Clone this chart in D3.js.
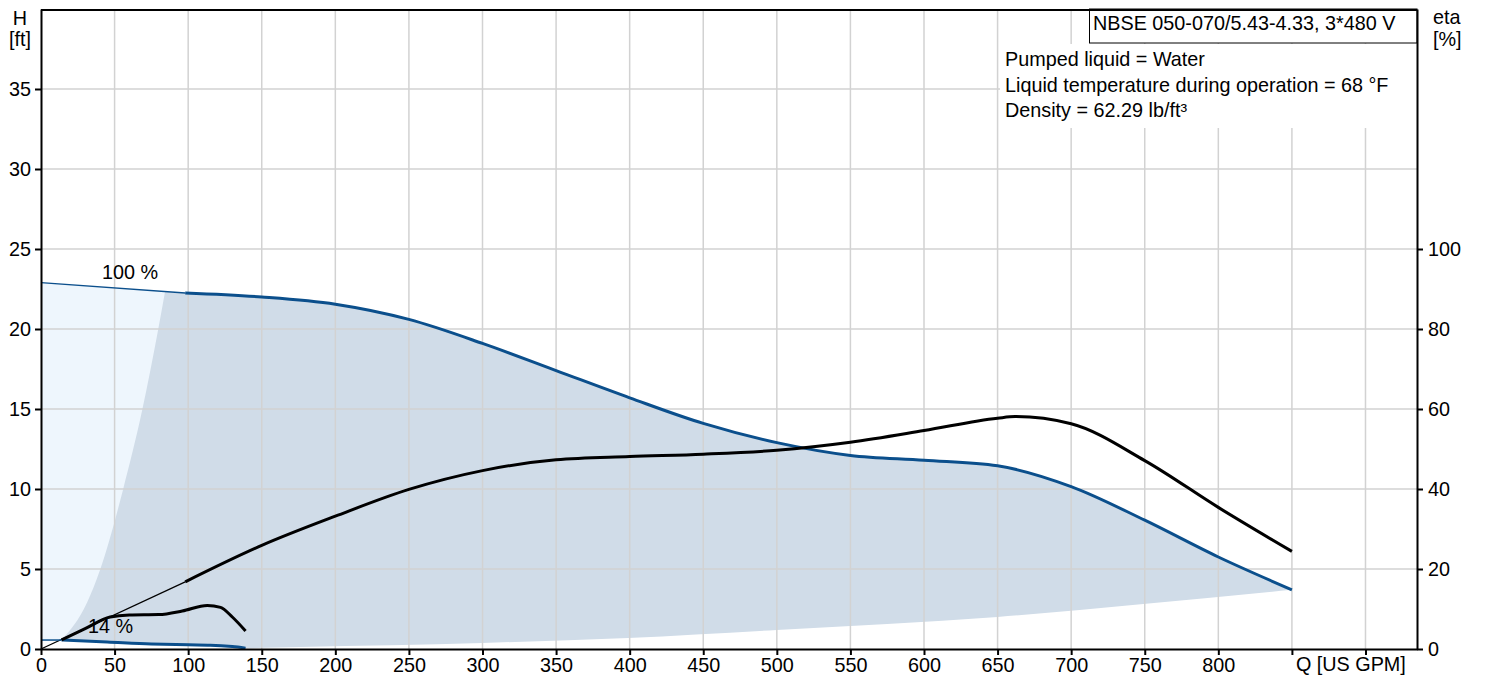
<!DOCTYPE html>
<html>
<head>
<meta charset="utf-8">
<script src="https://cdn.jsdelivr.net/npm/d3@7"></script>
<style>
  body { margin: 0; background: #fff; }
  svg { display: block; font-family: "Liberation Sans", Arial, sans-serif; }
</style>
</head>
<body>
<svg id="chart" width="1496" height="676"></svg>
<script>
// axis ticks
const qTicks = [0, 50, 100, 150, 200, 250, 300, 350, 400, 450, 500, 550, 600, 650, 700, 750, 800, 850, 900];
const hTicks = [0, 5, 10, 15, 20, 25, 30, 35];
const etaTicks = [0, 20, 40, 60, 80, 100];

// 100 % speed, head [ft] over flow [US GPM]
const q100 = [0, 98, 150, 200, 250, 300, 350, 400, 450, 500, 550, 600, 650, 700, 750, 800, 850];
const h100 = [22.9, 22.25, 22.0, 21.55, 20.6, 19.1, 17.4, 15.7, 14.1, 12.9, 12.1, 11.8, 11.45, 10.15, 8.05, 5.75, 3.7];

// 100 % speed, efficiency [%]
const qEta100 = [0, 98, 150, 200, 250, 300, 350, 400, 450, 500, 550, 600, 650, 662, 700, 750, 800, 850];
const eta100 = [0, 16.8, 25.9, 33.2, 39.9, 44.6, 47.3, 48.1, 48.7, 49.7, 51.7, 54.6, 57.7, 58.1, 56.3, 47.1, 35.4, 24.4];

// 14 % speed
const q14 = [0, 14, 45, 75, 100, 115, 130, 139];
const h14 = [0.56, 0.56, 0.44, 0.32, 0.26, 0.24, 0.15, 0.05];
const qEta14 = [14, 30, 47, 60, 80, 96, 113, 122, 130, 139];
const eta14 = [2.3, 5.1, 8.0, 8.5, 8.6, 9.5, 10.9, 10.4, 8.0, 4.5];

// limits of the operating range
const qMinFlow = [14, 31.3, 40.1, 55.7, 68.7, 79.5, 84.3];
const hMinFlow = [0.56, 2.9, 4.94, 9.94, 14.9, 19.9, 22.34];
const qMaxFlow = [139, 176, 300, 399, 500, 650, 749, 850];
const hMaxFlow = [0.05, 0.13, 0.38, 0.69, 1.19, 2.0, 2.81, 3.7];

const thickFrom = 98;      // flow where the 100 % curves turn solid
const thickFrom14 = 14;

const title = 'NBSE 050-070/5.43-4.33, 3*480 V';
const infoLines = ['Pumped liquid = Water', 'Liquid temperature during operation = 68 °F', 'Density = 62.29 lb/ft³'];

const BLUE = '#0b4f8c', DARK = '#d0dce8', LIGHT = '#eef6fd', GRID = '#d2d2d2';
const FS = '19.8px';

const svg = d3.select('#chart');
const x = d3.scaleLinear().domain([0, 935]).range([41, 1417]);
const yH = d3.scaleLinear().domain([0, 40]).range([649, 9]);
const yE = d3.scaleLinear().domain([0, 160]).range([649, 9]);

const zip = (a, b) => a.map((v, i) => [v, b[i]]);
const pH100 = zip(q100, h100), pE100 = zip(qEta100, eta100);
const pH14 = zip(q14, h14), pE14 = zip(qEta14, eta14);
const pMin = zip(qMinFlow, hMinFlow), pMax = zip(qMaxFlow, hMaxFlow);

const lineH = d3.line().x(d => x(d[0])).y(d => yH(d[1])).curve(d3.curveMonotoneX);
const lineE = d3.line().x(d => x(d[0])).y(d => yE(d[1])).curve(d3.curveMonotoneX);
const areaH = d3.area().x(d => x(d[0])).y0(yH(0)).y1(d => yH(d[1])).curve(d3.curveMonotoneX);

// fills: light under the full curve, dark operating range, white below the minimum speed
svg.append('path').attr('d', areaH(pH100)).attr('fill', LIGHT);
const topEdge = [pMin[pMin.length - 1]].concat(pH100.filter(d => d[0] >= thickFrom));
const dark = lineH(pMin) + lineH(topEdge).replace(/^M/, 'L') +
  'L' + x(q100[q100.length - 1]) + ',' + yH(0) + 'L' + x(qMinFlow[0]) + ',' + yH(0) + 'Z';
svg.append('path').attr('d', dark).attr('fill', DARK);
svg.append('path').attr('d', areaH(pH14)).attr('fill', '#fff');
svg.append('path').attr('d', areaH(pMax)).attr('fill', '#fff');

// grid
svg.append('g').selectAll('line').data(qTicks.filter(d => d > 0)).join('line')
  .attr('x1', d => x(d)).attr('x2', d => x(d)).attr('y1', yH(40)).attr('y2', yH(0))
  .attr('stroke', GRID).attr('stroke-width', 1.5);
svg.append('g').selectAll('line').data(hTicks.filter(d => d > 0)).join('line')
  .attr('x1', x(0)).attr('x2', x(935)).attr('y1', d => yH(d)).attr('y2', d => yH(d))
  .attr('stroke', GRID).attr('stroke-width', 1.5);

// info panel
svg.append('rect').attr('x', 1000).attr('y', 44).attr('width', x(935) - 1000).attr('height', 84).attr('fill', '#fff');
svg.append('rect').attr('x', 1089.5).attr('y', yH(40)).attr('width', x(935) - 1089.5).attr('height', 34)
  .attr('fill', '#fff').attr('stroke', '#000').attr('stroke-width', 1);
svg.append('text').attr('x', 1093).attr('y', 30).attr('font-size', FS).text(title);
svg.append('g').selectAll('text').data(infoLines).join('text')
  .attr('x', 1005).attr('y', (d, i) => 66 + i * 25.5).attr('font-size', FS).text(d => d);

// curves
const curve = (d, color, w) => svg.append('path').attr('d', d).attr('fill', 'none')
  .attr('stroke', color).attr('stroke-width', w).attr('stroke-linejoin', 'round');
curve(lineH(pH100.filter(d => d[0] <= thickFrom)), BLUE, 1.3);
curve(lineH(pH100.filter(d => d[0] >= thickFrom)), BLUE, 3);
curve(lineE(pE100.filter(d => d[0] <= thickFrom)), '#000', 1.3);
curve(lineE(pE100.filter(d => d[0] >= thickFrom)), '#000', 3);
curve(lineH(pH14.filter(d => d[0] <= thickFrom14)), BLUE, 1.5);
curve(lineH(pH14.filter(d => d[0] >= thickFrom14)), BLUE, 3);
curve(lineE(pE14), '#000', 3);

svg.append('text').attr('x', x(41.5)).attr('y', 279).attr('font-size', FS).text('100 %');
svg.append('text').attr('x', x(32)).attr('y', 633).attr('font-size', FS).text('14 %');

// axes
const styleAxis = g => {
  g.selectAll('path.domain').attr('stroke', '#000').attr('stroke-width', 2);
  g.selectAll('.tick line').attr('stroke', '#000').attr('stroke-width', 2);
  g.selectAll('.tick text').attr('font-size', FS).attr('fill', '#000').attr('font-family', null);
  g.attr('font-family', null);
};
svg.append('g').attr('transform', `translate(${x(0)},0)`)
  .call(d3.axisLeft(yH).tickValues(hTicks).tickSize(6).tickSizeOuter(0).tickPadding(4))
  .call(styleAxis);
svg.append('g').attr('transform', `translate(${x(935)},0)`)
  .call(d3.axisRight(yE).tickValues(etaTicks).tickSize(6).tickSizeOuter(0).tickPadding(5))
  .call(styleAxis);
svg.append('g').attr('transform', `translate(0,${yH(0)})`)
  .call(d3.axisBottom(x).tickValues(qTicks).tickSize(6).tickSizeOuter(0).tickPadding(3)
    .tickFormat(d => d <= 800 ? d : ''))
  .call(styleAxis);
svg.append('line').attr('x1', x(0)).attr('x2', x(935)).attr('y1', yH(40) + 1).attr('y2', yH(40) + 1)
  .attr('stroke', '#000').attr('stroke-width', 2);

svg.append('text').attr('x', x(850) + 4).attr('y', 671).attr('font-size', FS).text('Q [US GPM]');
svg.append('text').attr('x', 20).attr('y', 25).attr('text-anchor', 'middle').attr('font-size', FS).text('H');
svg.append('text').attr('x', 20).attr('y', 46).attr('text-anchor', 'middle').attr('font-size', FS).text('[ft]');
svg.append('text').attr('x', 1433).attr('y', 24).attr('font-size', FS).text('eta');
svg.append('text').attr('x', 1433).attr('y', 46).attr('font-size', FS).text('[%]');
</script>
</body>
</html>
